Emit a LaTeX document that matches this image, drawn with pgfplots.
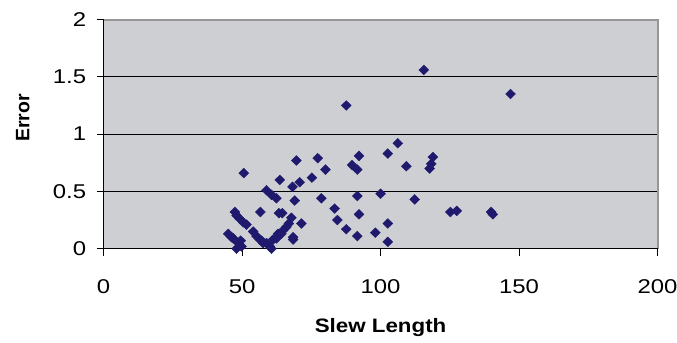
\documentclass[border=0pt]{standalone}
\usepackage{pgfplots}
\pgfplotsset{compat=1.18}
\usepackage{fontspec}
\setmainfont{Liberation Sans}
\newfontfamily\tickfont{Liberation Sans}[FakeStretch=1.2]
\newfontfamily\labfont{Liberation Sans}[FakeStretch=1.15]
\definecolor{plotbg}{RGB}{206,207,210}
\definecolor{marknavy}{RGB}{32,26,110}
\definecolor{framegray}{RGB}{150,150,150}
\begin{document}
\begin{tikzpicture}
\useasboundingbox (-103.6bp,-94.3bp) rectangle (573.4bp,248.7bp);
\begin{axis}[
  at={(0,0)}, anchor=south west,
  scale only axis,
  width=554bp, height=229.2bp,
  xmin=0, xmax=200, ymin=0, ymax=2,
  xtick={0,50,100,150,200},
  ytick={0,0.5,1,1.5,2},
  axis background/.style={fill=plotbg},
  axis line style={draw=none},
  ymajorgrids,
  major grid style={black, line width=1.1bp},
  tick align=outside,
  major tick length=7bp,
  tick style={black, line width=1.1bp},
  xtick pos=bottom, ytick pos=left,
  /pgf/number format/assume math mode=true,
  ticklabel style={font=\tickfont\fontsize{20}{20}\selectfont},
  xticklabel style={yshift=-20bp},
  yticklabel style={xshift=-7bp},
  xlabel={Slew Length},
  ylabel={Error},
  xlabel style={font=\labfont\bfseries\fontsize{19.5}{20}\selectfont, at={(axis description cs:0.5,-0.342)}, anchor=center},
  ylabel style={font=\bfseries\fontsize{19.5}{20}\selectfont, at={(axis description cs:-0.146,0.570)}, anchor=center, rotate=0},
  clip=false,
]
% frame: gray top/right, black left/bottom
\draw[framegray, line width=2bp] (axis cs:0,2) -- (axis cs:200,2) -- (axis cs:200,0);
\draw[black, line width=1.3bp] (axis cs:0,2) -- (axis cs:0,0) -- (axis cs:200,0);
\addplot[only marks, mark=diamond*, mark size=4.9bp, color=marknavy,
  mark options={xscale=1.35, fill=marknavy, draw=marknavy}] coordinates {
(45.0,0.13) (46.2,0.10) (46.8,0.09) (47.4,0.32) (48.0,0.29) (48.6,0.05)
(49.2,0.26) (49.8,0.02) (48.0,0.00) (50.4,0.23) (51.6,0.21) (49.5,0.07)
(54.0,0.15) (55.2,0.11) (56.4,0.08) (57.0,0.07) (57.6,0.05) (58.8,0.05)
(60.0,0.02) (60.6,0.00) (61.2,0.08) (62.4,0.09) (63.0,0.13) (64.2,0.13)
(64.8,0.16) (66.0,0.19) (66.9,0.22) (68.4,0.10) (68.4,0.08)
(56.6,0.32) (63.3,0.31) (64.5,0.31) (67.8,0.27) (71.4,0.22)
(58.8,0.51) (60.6,0.47) (62.4,0.44) (69.0,0.42) (68.2,0.54) (70.8,0.58)
(63.6,0.60) (75.2,0.62) (69.6,0.77) (77.3,0.79) (80.1,0.69) (78.6,0.44)
(50.6,0.66)
(87.6,1.25) (83.4,0.35) (84.4,0.25) (87.6,0.17) (89.7,0.73) (91.6,0.69)
(92.2,0.81) (91.6,0.46) (92.2,0.30) (91.6,0.11) (98.1,0.14) (100.0,0.48)
(102.6,0.83) (102.6,0.22) (102.6,0.06) (106.2,0.92) (109.3,0.72) (112.3,0.43)
(115.6,1.56) (117.7,0.70) (118.3,0.74) (118.9,0.80) (125.2,0.32) (127.5,0.33)
(139.9,0.32) (140.5,0.30) (146.9,1.35)
};
\end{axis}
\end{tikzpicture}
\end{document}
